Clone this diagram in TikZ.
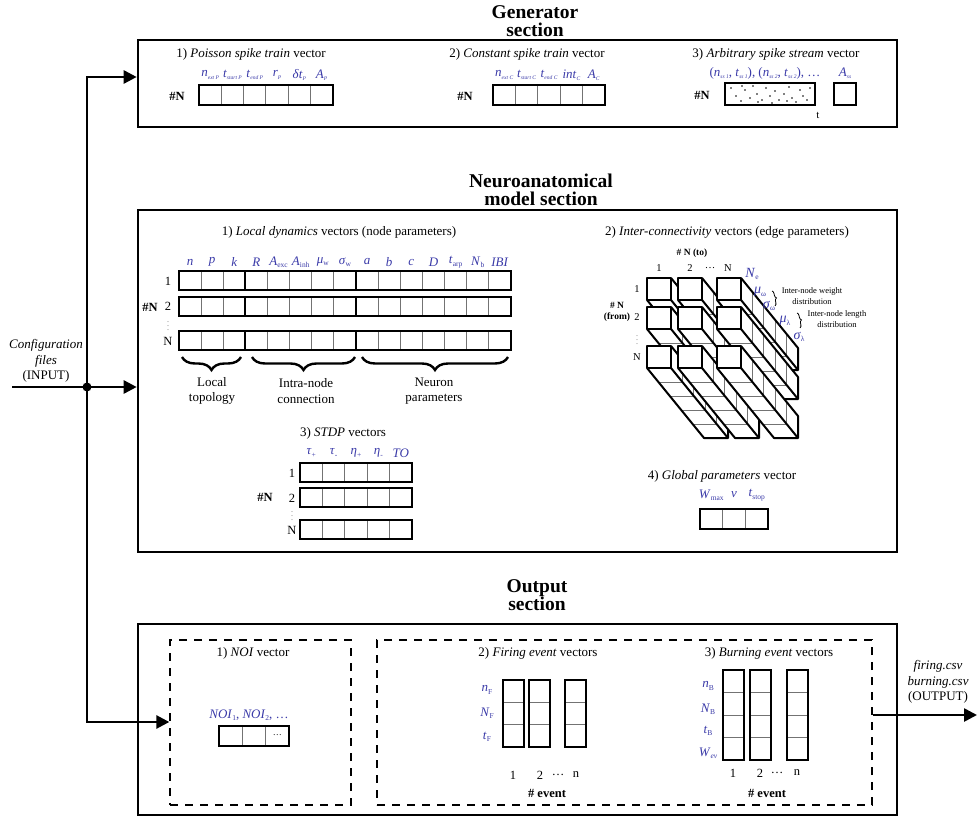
\documentclass[tikz,border=0pt]{standalone}
\usepackage{fontspec}
\setmainfont{Liberation Serif}
\usepackage{tikz}
\usetikzlibrary{arrows.meta,decorations.pathreplacing}

\definecolor{parblue}{RGB}{58,58,168}
\newcommand{\parsub}[2]{\textit{#1}\raisebox{-0.4ex}{\fontsize{7.5}{7.5}\selectfont #2}}
\newcommand{\parsubs}[2]{\textit{#1}\raisebox{-0.4ex}{\fontsize{5.5}{5.5}\selectfont\itshape #2}}
\newcommand{\cellrow}[5]{% left, top, cells, cell width, height
  \foreach \k in {1,...,#3}{\draw[divline] ({#1+\k*#4},#2) -- ({#1+\k*#4},{#2+#5});}
  \draw[vecbox] (#1,#2) rectangle ({#1+#3*#4},{#2+#5});}
\newcommand{\cellcol}[5]{% left, top, cells, width, cell height
  \foreach \k in {1,...,#3}{\draw[divline] (#1,{#2+\k*#5}) -- ({#1+#4},{#2+\k*#5});}
  \draw[vecbox] (#1,#2) rectangle ({#1+#4},{#2+#3*#5});}
\newcommand{\edgeprism}[2]{% front face top-left corner
  \begin{scope}[shift={(#1,#2)}]
    \fill[white] (0,0) -- (24,0) -- (81,70) -- (81,92) -- (57,92) -- (0,22) -- cycle;
    \foreach \k in {1,...,4}{\draw[divline] ({24+11.4*\k},{14*\k}) -- ++(0,22) -- ++(-24,0);}
    \draw[prism] (0,0) rectangle (24,22);
    \draw[prism] (24,0) -- (81,70) -- (81,92) -- (57,92) -- (0,22) (24,22) -- (81,92);
  \end{scope}}

\tikzset{
  secbox/.style={draw, line width=2.6pt, inner sep=0pt},
  dashbox/.style={draw, line width=1.3pt, dash pattern=on 8pt off 7pt, inner sep=0pt},
  vecbox/.style={line width=2pt},
  divline/.style={black!55, line width=0.9pt},
  prism/.style={line width=2pt, line join=round},
  feed/.style={line width=2.6pt, -{Triangle[length=13pt,width=13pt]}},
  title/.style={font=\bfseries\fontsize{19.5}{18}\selectfont, align=center},
  caption/.style={font=\fontsize{13}{15.5}\selectfont, inner sep=0pt},
  par/.style={text=parblue, font=\fontsize{13}{14}\selectfont, inner sep=0pt},
  idx/.style={font=\fontsize{12.5}{14}\selectfont, inner sep=0pt},
  cnt/.style={font=\bfseries\fontsize{12.5}{14}\selectfont, inner sep=0pt},
  cntsmall/.style={font=\bfseries\fontsize{9.5}{11}\selectfont, align=center, inner sep=0pt},
  tinytext/.style={font=\fontsize{8.5}{10.5}\selectfont, align=center, inner sep=0pt},
  grp/.style={decorate, decoration={brace, mirror, amplitude=13pt}, line width=2.4pt},
}

\begin{document}
\begin{tikzpicture}[x=1pt,y=-1pt]
\useasboundingbox (0,0) rectangle (977,821);

% section frames
\node[secbox, minimum width=759pt, minimum height=87pt] (gen) at (517.5,83.5) {};
\node[secbox, minimum width=759pt, minimum height=342pt] (neuro) at (517.5,381) {};
\node[secbox, minimum width=759pt, minimum height=191pt] (outp) at (517.5,719.5) {};
\node[dashbox, minimum width=181pt, minimum height=165pt] (noi) at (260.5,722.5) {};
\node[dashbox, minimum width=495pt, minimum height=165pt] (evt) at (624.5,722.5) {};

\node[title] (gent) at (535,21) {Generator\\section};
\node[title] (neut) at (541,190) {Neuroanatomical\\model section};
\node[title] (outt) at (537,595) {Output\\section};

% input / output
\node[caption, align=center] (cfg) at (46,361) {\textit{Configuration}\\\textit{files}\\(INPUT)};
\coordinate (src) at (12,387);
\coordinate (hub) at (87,387);
\coordinate (gtap) at (87,77);
\coordinate (otap) at (87,722);
\coordinate (sink) at (977,715);
\draw[feed] (src) -- (neuro.west |- hub);
\draw[feed] (hub) -- (gtap) -- (gen.west |- gtap);
\draw[feed] (hub) -- (otap) -- (noi.west |- otap);
\fill (hub) circle (4.5pt);
\draw[feed] (evt.east |- sink) -- (sink);
\node[caption, align=center] (csv) at (938,682) {\textit{firing.csv}\\\textit{burning.csv}\\(OUTPUT)};

% generator section
\node[caption] (g1) at (251,54) {1) \textit{Poisson spike train} vector};
\node[caption] (g2) at (527,54) {2) \textit{Constant spike train} vector};
\node[caption] (g3) at (776,54) {3) \textit{Arbitrary spike stream} vector};
\node[cnt] (gn1) at (177,96) {\#N};
\node[cnt] (gn2) at (465,96) {\#N};
\node[cnt] (gn3) at (702,95) {\#N};
\cellrow{199}{85}{6}{22.3}{20}
\cellrow{493}{85}{5}{22.4}{20}
\foreach \lab [count=\i] in {{\parsubs{n}{ext P}},{\parsubs{t}{start P}},{\parsubs{t}{end P}},{\parsubs{r}{P}},{\parsubs{δt}{P}},{\parsubs{A}{P}}}
  \node[par] (pp\i) at ({199+22.3*(\i-0.5)},75) {\lab};
\foreach \lab [count=\i] in {{\parsubs{n}{ext C}},{\parsubs{t}{start C}},{\parsubs{t}{end C}},{\parsubs{int}{C}},{\parsubs{A}{C}}}
  \node[par] (pc\i) at ({493+22.4*(\i-0.5)},75) {\lab};
\draw[vecbox] (725,83) rectangle (815,105);
\foreach \px/\py in {731/88,736/96,741/101,745/90,750/98,753/86,757/94,762/100,766/88,770/96,775/91,779/100,784/94,789/87,792/98,796/102,800/90,803/96,807/100,810/88,742/86,787/101,758/102,772/103}
  \fill (\px,\py) circle (0.8pt);
\draw[vecbox] (834,83) rectangle (856,105);
\node[par] (ssl) at (765,73) {(\parsubs{n}{ss 1}, \parsubs{t}{ss 1}), (\parsubs{n}{ss 2}, \parsubs{t}{ss 2}), \ldots};
\node[par] (ass) at (845,73) {\parsubs{A}{ss}};
\node[idx, font=\fontsize{11}{12}\selectfont] (tax) at (818,115) {t};

% local dynamics
\node[caption] (l1) at (339,232) {1) \textit{Local dynamics} vectors (node parameters)};
\node[cnt] (ln) at (150,307) {\#N};
\foreach \ry in {271,297,331}{
  \cellrow{179}{\ry}{15}{22.13}{19}
  \draw[vecbox] (245.4,\ry) -- (245.4,\ry+19) (356,\ry) -- (356,\ry+19);
}
\foreach \lab [count=\i] in {{\textit{n}},{\textit{p}},{\textit{k}},{\textit{R}},{\parsub{A}{exc}},{\parsub{A}{inh}},{\parsub{μ}{w}},{\parsub{σ}{w}},{\textit{a}},{\textit{b}},{\textit{c}},{\textit{D}},{\parsub{t}{arp}},{\parsub{N}{b}},{\textit{IBI}}}
  \node[par] (lp\i) at ({179+22.13*(\i-0.5)},262) {\lab};
\node[idx] (lr1) at (168,281) {1};
\node[idx] (lr2) at (168,306) {2};
\node[idx, font=\fontsize{6}{6}\selectfont] (lrv) at (168,323.5) {$\vdots$};
\node[idx] (lrn) at (168,341) {N};
\draw[grp] (182,357) -- (241,357);
\draw[grp] (252,357) -- (355,357);
\draw[grp] (362,357) -- (508,357);
\node[caption, align=center] (b1) at (212,391) {Local\\topology};
\node[caption, align=center] (b2) at (306,391) {Intra-node\\connection};
\node[caption, align=center] (b3) at (434,391) {Neuron\\parameters};

% inter-connectivity
\node[caption] (l2) at (727,232) {2) \textit{Inter-connectivity} vectors (edge parameters)};
\node[cntsmall] (to) at (692,253) {\# N (to)};
\node[cntsmall] (from) at (617,312) {\# N\\(from)};
\foreach \cx/\lab [count=\i] in {659/1,690/2,710/\ldots,728/N}
  \node[idx, font=\fontsize{10.5}{12}\selectfont] (ic\i) at (\cx,268) {\lab};
\foreach \cy/\lab [count=\i] in {289/1,317/2,357/N}
  \node[idx, font=\fontsize{10.5}{12}\selectfont] (ir\i) at (637,\cy) {\lab};
\node[idx, font=\fontsize{6}{6}\selectfont] (irv) at (637,337) {$\vdots$};
\foreach \ry in {278,307,346}{\foreach \cx in {647,678,717}{\edgeprism{\cx}{\ry}}}
\node[par, font=\fontsize{14}{14}\selectfont] (ne) at (752,274) {\parsub{N}{e}};
\node[par, font=\fontsize{14}{14}\selectfont] (mw) at (760,292) {\parsub{μ}{ω}};
\node[par, font=\fontsize{14}{14}\selectfont] (sw) at (769,306) {\parsub{σ}{ω}};
\node[par, font=\fontsize{14}{14}\selectfont] (ml) at (785,321) {\parsub{μ}{λ}};
\node[par, font=\fontsize{14}{14}\selectfont] (sl) at (799,337) {\parsub{σ}{λ}};
\draw[decorate, decoration={brace, amplitude=3pt}, line width=0.8pt] (772,291) -- (775,306);
\draw[decorate, decoration={brace, amplitude=3pt}, line width=0.8pt] (797,313) -- (800,328);
\node[tinytext] (wd) at (812,296) {Inter-node weight\\distribution};
\node[tinytext] (ld) at (837,319) {Inter-node length\\distribution};

% STDP
\node[caption] (l3) at (343,433) {3) \textit{STDP} vectors};
\node[cnt] (sn) at (265,497) {\#N};
\foreach \ry in {463,488,520}{\cellrow{300}{\ry}{5}{22.4}{19}}
\foreach \lab [count=\i] in {{\parsub{τ}{+}},{\parsub{τ}{-}},{\parsub{η}{+}},{\parsub{η}{-}},{\textit{TO}}}
  \node[par] (sp\i) at ({300+22.4*(\i-0.5)},453) {\lab};
\node[idx] (sr1) at (292,473) {1};
\node[idx] (sr2) at (292,498) {2};
\node[idx, font=\fontsize{6}{6}\selectfont] (srv) at (292,513.5) {$\vdots$};
\node[idx] (srn) at (292,530) {N};

% global parameters
\node[caption] (l4) at (722,476) {4) \textit{Global parameters} vector};
\cellrow{700}{509}{3}{22.7}{20}
\foreach \lab [count=\i] in {{\parsub{W}{max}},{\textit{v}},{\parsub{t}{stop}}}
  \node[par] (gp\i) at ({700+22.7*(\i-0.5)},495) {\lab};

% NOI
\node[caption] (o1) at (253,653) {1) \textit{NOI} vector};
\node[par] (noil) at (249,715) {\parsub{NOI}{1}, \parsub{NOI}{2}, \ldots};
\cellrow{219}{726}{3}{23.3}{20}
\node[idx, font=\fontsize{9}{9}\selectfont] (noid) at (277.4,735) {\ldots};

% firing events
\node[caption] (o2) at (538,653) {2) \textit{Firing event} vectors};
\foreach \cx in {503,529,565}{\cellcol{\cx}{680}{3}{21}{22.3}}
\foreach \lab/\cy [count=\i] in {{\parsub{n}{F}}/690,{\parsub{N}{F}}/713,{\parsub{t}{F}}/737}
  \node[par] (fp\i) at (487,\cy) {\lab};
\foreach \cx/\lab [count=\i] in {513/1,540/2,558/\ldots,576/n}
  \node[idx] (fe\i) at (\cx,775) {\lab};
\node[cnt] (fev) at (547,793) {\# event};

% burning events
\node[caption] (o3) at (769,653) {3) \textit{Burning event} vectors};
\foreach \cx in {723,750,787}{\cellcol{\cx}{670}{4}{21}{22.5}}
\foreach \lab/\cy [count=\i] in {{\parsub{n}{B}}/686,{\parsub{N}{B}}/709,{\parsub{t}{B}}/731,{\parsub{W}{\textit{ev}}}/753}
  \node[par] (bp\i) at (708,\cy) {\lab};
\foreach \cx/\lab [count=\i] in {733/1,760/2,777/\ldots,797/n}
  \node[idx] (be\i) at (\cx,773) {\lab};
\node[cnt] (bev) at (767,793) {\# event};
\end{tikzpicture}
\end{document}
